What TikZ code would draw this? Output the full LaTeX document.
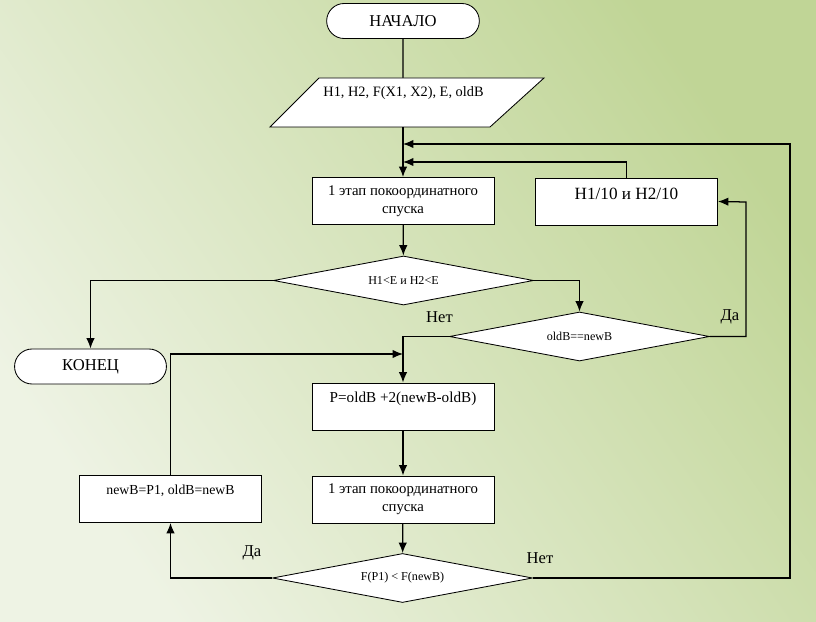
\documentclass[tikz,border=0pt]{standalone}
\usepackage{fontspec}
\setmainfont{Liberation Serif}
\usepackage{tikz}
\usetikzlibrary{shapes,backgrounds,arrows.meta}
\pgfdeclarelayer{bglayer}
\pgfdeclarelayer{edgelayer}
\pgfdeclarelayer{nodelayer}
\pgfsetlayers{bglayer,edgelayer,nodelayer,main}
\definecolor{bglight}{RGB}{238,243,228}
\definecolor{bgdark}{RGB}{192,213,150}
\tikzstyle{none}=[inner sep=0pt]
\tikzstyle{terminal}=[rounded rectangle,fill=white,draw=black,line width=0.6,minimum width=4.03cm,minimum height=0.875cm,font=\fontsize{11.8}{13}\selectfont]
\tikzstyle{process}=[rectangle,fill=white,draw=black,line width=0.6,minimum width=4.55cm,minimum height=1.175cm,align=center,font=\fontsize{10.5}{13}\selectfont]
\tikzstyle{decision}=[diamond,aspect=5.3,fill=white,draw=black,line width=0.6,inner sep=1pt,minimum width=6.5cm,minimum height=1.225cm,font=\fontsize{8.6}{10}\selectfont]
\tikzstyle{inputbox}=[fill=white,draw=black,line width=0.6]
\tikzstyle{answer}=[inner sep=0pt,font=\fontsize{11.8}{13}\selectfont]
\tikzstyle{flowarrow}=[->, >={Latex[length=2.6mm,width=2.1mm]}, line width=0.9]
\tikzstyle{simple}=[-, line width=0.9]

\begin{document}
\begin{tikzpicture}[x=0.025cm,y=-0.025cm]
	\useasboundingbox (0,0) rectangle (816,622);
	\begin{pgfonlayer}{bglayer}
		\shade [bottom color=bglight, top color=bgdark, shading angle=-55] (0,0) rectangle (816,622);
	\end{pgfonlayer}
	\begin{pgfonlayer}{nodelayer}
		\node [style=terminal, minimum width=4.05cm] (start) at (403, 21) {НАЧАЛО};
		\node [style=none] (PTL) at (319, 78) {};
		\node [style=none] (PTR) at (544, 78) {};
		\node [style=none] (PBR) at (490, 127) {};
		\node [style=none] (PBL) at (270, 127) {};
		\node [style=none] (PT) at (403, 78) {};
		\node [style=none] (PB) at (403, 127) {};
		\draw [style=inputbox] (PTL.center) to (PTR.center) to (PBR.center) to (PBL.center) -- cycle;
		\node [style=none, font=\fontsize{10.2}{12}\selectfont] (input) at (403.5, 93) {H1, H2, F(X1, X2), E, oldB};
		\node [style=process] (step1) at (403, 201) {1 этап покоординатного\\спуска};
		\node [style=process, font=\fontsize{12.2}{14}\selectfont] (shrink) at (626.5, 201.5) {H1/10 и H2/10\\[-3pt]\mbox{}};
		\node [style=decision] (dec1) at (403.5, 280.5) {H1<E и H2<E};
		\node [style=decision] (dec2) at (579.5, 336.5) {oldB==newB};
		\node [style=terminal] (stop) at (90.5, 366.5) {КОНЕЦ};
		\node [style=process, font=\fontsize{10.8}{13}\selectfont] (calc) at (403, 406.5) {P=oldB +2(newB-oldB)\\\mbox{}};
		\node [style=process] (step2) at (403, 499.5) {1 этап покоординатного\\спуска};
		\node [style=process, font=\fontsize{9.8}{13}\selectfont] (update) at (170.5, 499) {newB=P1, oldB=newB\\\mbox{}};
		\node [style=decision] (dec3) at (402.5, 578) {F(P1) < F(newB)};
		\node [style=answer] (no1) at (439.5, 317) {Нет};
		\node [style=answer] (yes1) at (730, 317) {Да};
		\node [style=answer] (yes2) at (252, 553) {Да};
		\node [style=answer] (no2) at (540, 558) {Нет};
		\node [style=none] (J1) at (403, 162) {};
		\node [style=none] (J2) at (403, 144) {};
		\node [style=none] (J3) at (403, 354) {};
		\node [style=none] (C2) at (746, 202) {};
		\node [style=none] (C3) at (790, 144) {};
	\end{pgfonlayer}
	\begin{pgfonlayer}{edgelayer}
		\draw [style=simple] (start) to (PT.center);
		\draw [style=flowarrow] (PB.center) to (step1);
		\draw [style=flowarrow] (shrink.north) |- (J1.center);
		\draw [style=flowarrow] (step1) to (dec1);
		\draw [style=flowarrow] (dec1.west) -| (stop);
		\draw [style=flowarrow] (dec1.east) -| (dec2);
		\draw [style=flowarrow] (dec2.east) -| (C2.center) to (shrink.east);
		\draw [style=flowarrow] (dec2.west) -| (calc);
		\draw [style=flowarrow] (update.north) |- (J3.center);
		\draw [style=flowarrow] (calc) to (step2);
		\draw [style=flowarrow] (step2) to (dec3);
		\draw [style=flowarrow] (dec3.west) -| (update);
		\draw [style=flowarrow] (dec3.east) -| (C3.center) to (J2.center);
	\end{pgfonlayer}
\end{tikzpicture}
\end{document}
